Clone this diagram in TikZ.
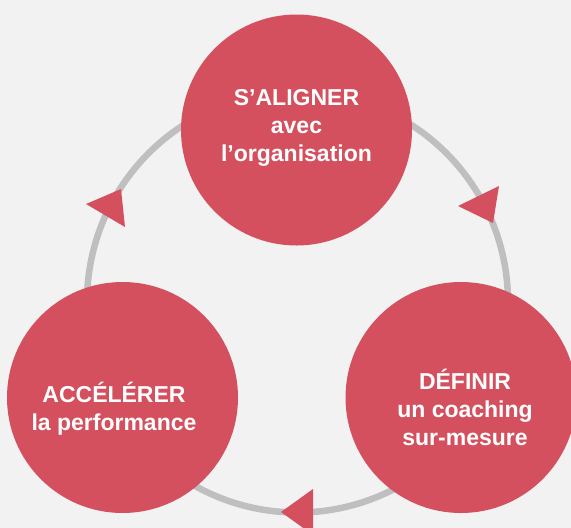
\documentclass[tikz,border=0pt]{standalone}
\usepackage{fontspec}
\setmainfont{Liberation Sans}
\definecolor{stagered}{RGB}{212,80,94}
\definecolor{ringgray}{RGB}{191,191,191}
\definecolor{paper}{RGB}{242,242,242}
\tikzset{stage/.style={circle,fill=stagered,minimum size=231pt,inner sep=0pt},
   stagetext/.style={text=white,font=\bfseries\fontsize{23}{28}\selectfont,align=center,inner sep=0pt},
   pointer/.style={fill=stagered}}

\begin{document}
\begin{tikzpicture}[x=1pt,y=-1pt]
   \fill[paper] (0,0) rectangle (571,528);
   \useasboundingbox (0,0) rectangle (571,528);
   \coordinate (o) at (297.5,302);
   \draw[ringgray,line width=6.5pt] (o) circle [radius=210.5pt];
   % the three stages
   \node[stage] (c_1) at (296.5,130) {};
   \node[stage] (c_2) at (461,397.5) {};
   \node[stage] (c_3) at (122.5,397.5) {};
   \node[stagetext] (l_1) at ([shift={(0,-2)}]c_1.center) {S’ALIGNER\\avec\\l’organisation};
   \node[stagetext] (l_2) at ([shift={(4,10)}]c_2.center) {DÉFINIR\\un coaching\\sur-mesure};
   \node[stagetext] (l_3) at ([shift={(-8.5,11)}]c_3.center) {ACCÉLÉRER\\la performance};
   % pointers on the ring
   \fill[pointer] (86,204) -- (121,189) -- (125,227) -- cycle;
   \fill[pointer] (458,206) -- (499,186) -- (493,223) -- cycle;
   \fill[pointer] (281,512) -- (313,489) -- (313,535) -- cycle;
\end{tikzpicture}
\end{document}
